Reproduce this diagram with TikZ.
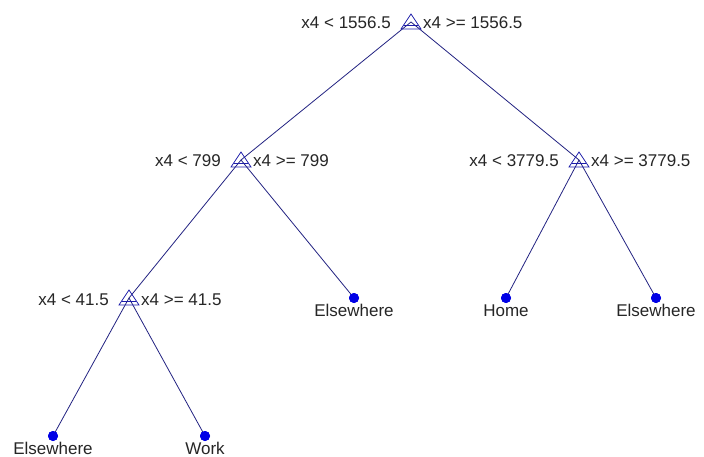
\documentclass[tikz,border=0pt]{standalone}
\usepackage{fontspec}
\setmainfont{Liberation Sans}
\definecolor{edgecol}{RGB}{35,35,130}
\definecolor{tricol}{RGB}{30,30,170}
\definecolor{dotcol}{RGB}{0,0,230}
\begin{document}
\begin{tikzpicture}[x=1pt,y=-1pt,
  edge/.style={draw=edgecol, line width=0.8pt},
  trimark/.style={draw=tricol, line width=0.8pt, line join=miter},
  leafdot/.style={circle, fill=dotcol, inner sep=0pt, minimum size=10pt},
  lbl/.style={inner sep=0pt, font=\fontsize{17}{20}\selectfont, text=black!85}]
\useasboundingbox[fill=white] (0,0) rectangle (704,457);
% branch points
\coordinate (n1) at (411,22);
\coordinate (n2) at (241,160);
\coordinate (n3) at (579,160);
\coordinate (n4) at (129,298);
% leaves
\node[leafdot] (l1) at (354,298) {};
\node[leafdot] (l2) at (506,298) {};
\node[leafdot] (l3) at (656,298) {};
\node[leafdot] (l4) at (53,436) {};
\node[leafdot] (l5) at (205,436) {};
% edges
\draw[edge] (n1) -- (n2);
\draw[edge] (n1) -- (n3);
\draw[edge] (n2) -- (n4);
\draw[edge] (n2) -- (l1.center);
\draw[edge] (n3) -- (l2.center);
\draw[edge] (n3) -- (l3.center);
\draw[edge] (n4) -- (l4.center);
\draw[edge] (n4) -- (l5.center);
% redraw dots on top
\foreach \l in {l1,l2,l3,l4,l5} \fill[dotcol] (\l) circle (5);
% triangle markers
\foreach \n in {n1,n2,n3,n4} {
  \draw[trimark] (\n) ++(0,-8) -- ++(10,15) -- ++(-20,0) -- cycle;
  \draw[trimark] (\n) ++(-7.3,3) -- ++(14.6,0);
}
% split labels
\node[lbl, anchor=base east] (t1a) at ([xshift=-20pt,yshift=-7pt]n1) {x4 < 1556.5};
\node[lbl, anchor=base west] (t1b) at ([xshift=12pt,yshift=-7pt]n1) {x4 >= 1556.5};
\node[lbl, anchor=base east] (t2a) at ([xshift=-20pt,yshift=-7pt]n2) {x4 < 799};
\node[lbl, anchor=base west] (t2b) at ([xshift=12pt,yshift=-7pt]n2) {x4 >= 799};
\node[lbl, anchor=base east] (t3a) at ([xshift=-20pt,yshift=-7pt]n3) {x4 < 3779.5};
\node[lbl, anchor=base west] (t3b) at ([xshift=12pt,yshift=-7pt]n3) {x4 >= 3779.5};
\node[lbl, anchor=base east] (t4a) at ([xshift=-20pt,yshift=-7pt]n4) {x4 < 41.5};
\node[lbl, anchor=base west] (t4b) at ([xshift=12pt,yshift=-7pt]n4) {x4 >= 41.5};
% leaf labels
\node[lbl, anchor=base] (w1) at ([yshift=-18pt]l1.center) {Elsewhere};
\node[lbl, anchor=base] (w2) at ([yshift=-18pt]l2.center) {Home};
\node[lbl, anchor=base] (w3) at ([yshift=-18pt]l3.center) {Elsewhere};
\node[lbl, anchor=base] (w4) at ([yshift=-18pt]l4.center) {Elsewhere};
\node[lbl, anchor=base] (w5) at ([yshift=-18pt]l5.center) {Work};
\end{tikzpicture}
\end{document}
